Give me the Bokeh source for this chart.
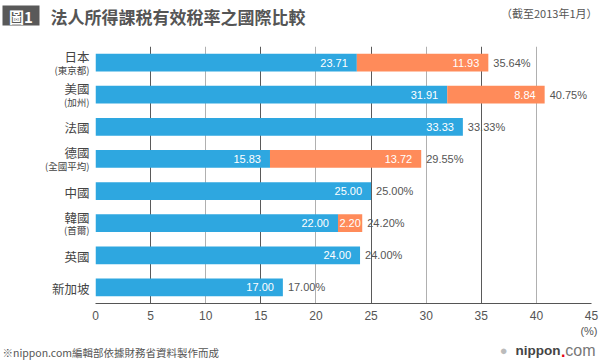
from bokeh.plotting import figure
from bokeh.layouts import column, row
from bokeh.models import (FactorRange, Range1d, ColumnDataSource, Grid, FixedTicker)
from bokeh.core.properties import value
from bokeh.embed import file_html
from bokeh.resources import INLINE

# ---------------- data ----------------
countries = ["日本", "美國", "法國", "德國", "中國", "韓國", "英國", "新加坡"]
regions = ["(東京都)", "(加州)", "", "(全國平均)", "", "(首爾)", "", ""]
national = [23.71, 31.91, 33.33, 15.83, 25.00, 22.00, 24.00, 17.00]
local = [11.93, 8.84, 0.0, 13.72, 0.0, 2.20, 0.0, 0.0]
x_ticks = [0, 5, 10, 15, 20, 25, 30, 35, 40, 45]

title_text = "法人所得課税有效稅率之國際比較"
badge_text = "圖1"
note_text = "（截至2013年1月）"
unit_text = "(%)"
source_text = "※nippon.com編輯部依據財務省資料製作而成"

# ---------------- style ----------------
BLUE = "#2ea7e0"
ORANGE = "#ff8b5a"
TXT = "#555555"
CJK = "Noto Sans CJK TC"
LAT = "Liberation Sans"

W = 600
HEAD_H = 46
FRAME_H = 257
AXIS_H = 20
LABEL_W = 91
FRAME_W = 496
FOOT_H = 360 - HEAD_H - FRAME_H - AXIS_H

totals = [round(a + b, 2) for a, b in zip(national, local)]

src = ColumnDataSource(dict(
    cat=countries,
    nat=national,
    loc=local,
    tot=totals,
    nat_lbl=["%.2f" % v for v in national],
    tot_lbl=["%.2f%%" % v for v in totals],
))

yr = FactorRange(factors=countries[::-1])


def blank(fig):
    fig.outline_line_color = None
    fig.background_fill_color = "white"
    fig.border_fill_color = "white"
    fig.xgrid.visible = False
    fig.ygrid.visible = False
    return fig


# ---------------- main chart ----------------
p = figure(frame_width=FRAME_W, frame_height=FRAME_H, output_backend="svg",
           toolbar_location=None, y_range=yr, x_range=Range1d(0, 45),
           min_border_left=4, min_border_right=W - LABEL_W - 4 - FRAME_W,
           min_border_top=0, min_border_bottom=AXIS_H)
blank(p)

p.add_layout(Grid(dimension=0, ticker=FixedTicker(ticks=x_ticks[1::2]),
                  grid_line_color="#5a5a5a", grid_line_width=1))
p.add_layout(Grid(dimension=0, ticker=FixedTicker(ticks=x_ticks[2::2]),
                  grid_line_color="#b0b0b0", grid_line_width=1))
p.add_layout(Grid(dimension=0, ticker=FixedTicker(ticks=x_ticks[:1]),
                  grid_line_color="#b0b0b0", grid_line_width=2))

p.yaxis.visible = False
xa = p.xaxis[0]
xa.ticker = FixedTicker(ticks=x_ticks)
xa.axis_line_color = "#555555"
xa.major_tick_in = 0
xa.major_tick_out = 0
xa.minor_tick_in = 0
xa.minor_tick_out = 0
xa.major_label_standoff = 7
xa.major_label_text_font = LAT
xa.major_label_text_font_size = "12px"
xa.major_label_text_color = TXT

p.hbar(y="cat", left=0, right="nat", height=0.55, source=src,
       fill_color=BLUE, line_color=None)
p.hbar(y="cat", left="nat", right="tot", height=0.55, source=src,
       fill_color=ORANGE, line_color=None)

p.text(x="nat", y="cat", text="nat_lbl", source=src, x_offset=-9,
       text_align="right", text_baseline="middle", text_color="white",
       text_font=value(LAT), text_font_size="11px")

wide = [i for i, v in enumerate(local) if v >= 4]
narrow = [i for i, v in enumerate(local) if 0 < v < 4]
src_w = ColumnDataSource(dict(
    cat=[countries[i] for i in wide],
    x=[totals[i] for i in wide],
    t=["%.2f" % local[i] for i in wide]))
src_n = ColumnDataSource(dict(
    cat=[countries[i] for i in narrow],
    x=[(national[i] + totals[i]) / 2 for i in narrow],
    t=["%.2f" % local[i] for i in narrow]))
p.text(x="x", y="cat", text="t", source=src_w, x_offset=-9,
       text_align="right", text_baseline="middle", text_color="white",
       text_font=value(LAT), text_font_size="11px")
p.text(x="x", y="cat", text="t", source=src_n,
       text_align="center", text_baseline="middle", text_color="white",
       text_font=value(LAT), text_font_size="11px")
p.text(x="tot", y="cat", text="tot_lbl", source=src, x_offset=5,
       text_align="left", text_baseline="middle", text_color=TXT,
       text_font=value(LAT), text_font_size="11px")

# ---------------- category labels (shares y range) ----------------
lf = figure(frame_width=LABEL_W, frame_height=FRAME_H, output_backend="svg",
            toolbar_location=None, y_range=yr, x_range=Range1d(0, LABEL_W),
            x_axis_location=None, y_axis_location=None,
            min_border_left=0, min_border_right=0, min_border_top=0,
            min_border_bottom=AXIS_H)
blank(lf)
with_sub = [i for i, r in enumerate(regions) if r]
no_sub = [i for i, r in enumerate(regions) if not r]
LX = LABEL_W - 2
s_main_sub = ColumnDataSource(dict(cat=[countries[i] for i in with_sub],
                                   t=[countries[i] for i in with_sub]))
s_sub = ColumnDataSource(dict(cat=[countries[i] for i in with_sub],
                              t=[regions[i] for i in with_sub]))
s_main = ColumnDataSource(dict(cat=[countries[i] for i in no_sub],
                               t=[countries[i] for i in no_sub]))
lf.text(x=LX, y="cat", text="t", source=s_main_sub, text_align="right",
        text_baseline="middle", y_offset=-6, text_font=value(CJK),
        text_font_size="12.5px", text_color="#444444")
lf.text(x=LX, y="cat", text="t", source=s_sub, text_align="right",
        text_baseline="middle", y_offset=7, text_font=value(CJK),
        text_font_size="9.5px", text_color="#444444")
lf.text(x=LX, y="cat", text="t", source=s_main, text_align="right",
        text_baseline="middle", y_offset=1, text_font=value(CJK),
        text_font_size="12.5px", text_color="#444444")

# ---------------- header ----------------
hd = figure(frame_width=W, frame_height=HEAD_H, output_backend="svg",
            toolbar_location=None, x_range=Range1d(0, W), y_range=Range1d(HEAD_H, 0),
            x_axis_location=None, y_axis_location=None, min_border=0)
blank(hd)
hd.quad(left=2, right=39, top=5, bottom=25, fill_color="#595959", line_color=None)
hd.text(x=20.5, y=15.5, text=[badge_text], text_align="center", text_baseline="middle",
        text_color="white", text_font=value(CJK), text_font_style="bold",
        text_font_size="15px")
hd.text(x=50, y=15.5, text=[title_text], text_align="left", text_baseline="middle",
        text_color="#555555", text_font=value(CJK), text_font_style="bold",
        text_font_size="17px")
hd.text(x=597, y=12.5, text=[note_text], text_align="right", text_baseline="middle",
        text_color=TXT, text_font=value(CJK), text_font_size="11px")

# ---------------- footer ----------------
ft = figure(frame_width=W, frame_height=FOOT_H, output_backend="svg",
            toolbar_location=None, x_range=Range1d(0, W), y_range=Range1d(FOOT_H, 0),
            x_axis_location=None, y_axis_location=None, min_border=0)
blank(ft)
ft.text(x=597, y=7, text=[unit_text], text_align="right", text_baseline="middle",
        text_color=TXT, text_font=value(LAT), text_font_size="11px")
ft.text(x=2, y=FOOT_H - 8, text=[source_text], text_align="left", text_baseline="middle",
        text_color=TXT, text_font=value(CJK), text_font_size="10.5px")
ft.text(x=595, y=FOOT_H - 10, text=["com"], text_align="right", text_baseline="middle",
        text_color="#777777", text_font=value(LAT), text_font_size="16px")
ft.text(x=565, y=FOOT_H - 10, text=["."], text_align="right", text_baseline="middle",
        text_color="#e60012", text_font=value(LAT), text_font_style="bold",
        text_font_size="16px")
ft.text(x=560, y=FOOT_H - 10, text=["nippon"], text_align="right", text_baseline="middle",
        text_color="#444444", text_font=value(LAT), text_font_style="bold",
        text_font_size="13.5px")
ft.text(x=507, y=FOOT_H - 10, text=["●"], text_align="right", text_baseline="middle",
        text_color="#bbbbbb", text_font=value(LAT), text_font_size="13px")

layout = column(hd, row(lf, p, spacing=0), ft, spacing=0)

open("out.html", "w").write(file_html(layout, INLINE))
